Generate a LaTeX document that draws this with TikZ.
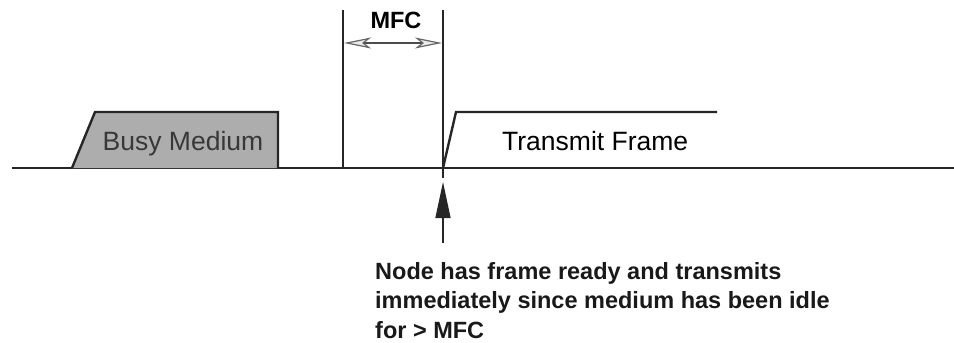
\documentclass[tikz,border=0pt]{standalone}
\usepackage{fontspec}
\setmainfont{Liberation Sans}
\usetikzlibrary{arrows.meta}
\tikzset{mfchead/.tip={Stealth[length=27pt,width=11pt,inset=7pt,fill=black!8,color=black!60,line width=1.2pt]}}
\begin{document}
\begin{tikzpicture}[x=1pt,y=-1pt,
  wire/.style={line width=2.4pt,draw=black!85},
  thin wire/.style={line width=1.3pt,draw=black!85},
  lbl/.style={inner sep=0pt,font=\fontsize{26.5}{30}\selectfont},
  boldlbl/.style={inner sep=0pt,font=\bfseries\fontsize{23.5}{29.5}\selectfont}]
\useasboundingbox (0,0) rectangle (954,343);
% time axis
\coordinate (axL) at (12,168);
\coordinate (axR) at (954,168);
\draw[wire] (axL) -- (axR);
% busy medium
\draw[fill=black!32,draw=black!85,line width=2.4pt,line join=miter]
  (72,168) -- (95,112) -- (278,112) -- (278,168);
\node[lbl,text=black!78,anchor=base] (busy) at (183,150) {Busy Medium};
% MFC markers
\coordinate (m1t) at (343,10);
\coordinate (m1b) at (343,168);
\coordinate (m2t) at (443,10);
\coordinate (m2b) at (443,178);
\draw[thin wire] (m1t) -- (m1b);
\draw[thin wire] (m2t) -- (m2b);
\node[boldlbl,anchor=base] (mfc) at (396,28) {MFC};
\coordinate (a1) at (344,43);
\coordinate (a2) at (442,43);
\draw[line width=1.6pt,draw=black!70,mfchead-mfchead] (a1) -- (a2);
% transmit frame
\coordinate (t0) at (443,168);
\coordinate (t1) at (456,112);
\coordinate (t2) at (717,112);
\draw[wire,line join=miter] (t0) -- (t1) -- (t2);
\node[lbl,anchor=base west] (tx) at (502,150) {Transmit Frame};
% indicator arrow
\coordinate (ptip) at (443,182);
\coordinate (pbot) at (443,243);
\draw[thin wire,-{Triangle[length=36pt,width=15pt]}] (pbot) -- (ptip);
% note
\node[boldlbl,anchor=north west,align=left,text=black!90] (note) at (375,262)
  {Node has frame ready and transmits\\immediately since medium has been idle\\for > MFC};
\end{tikzpicture}
\end{document}
